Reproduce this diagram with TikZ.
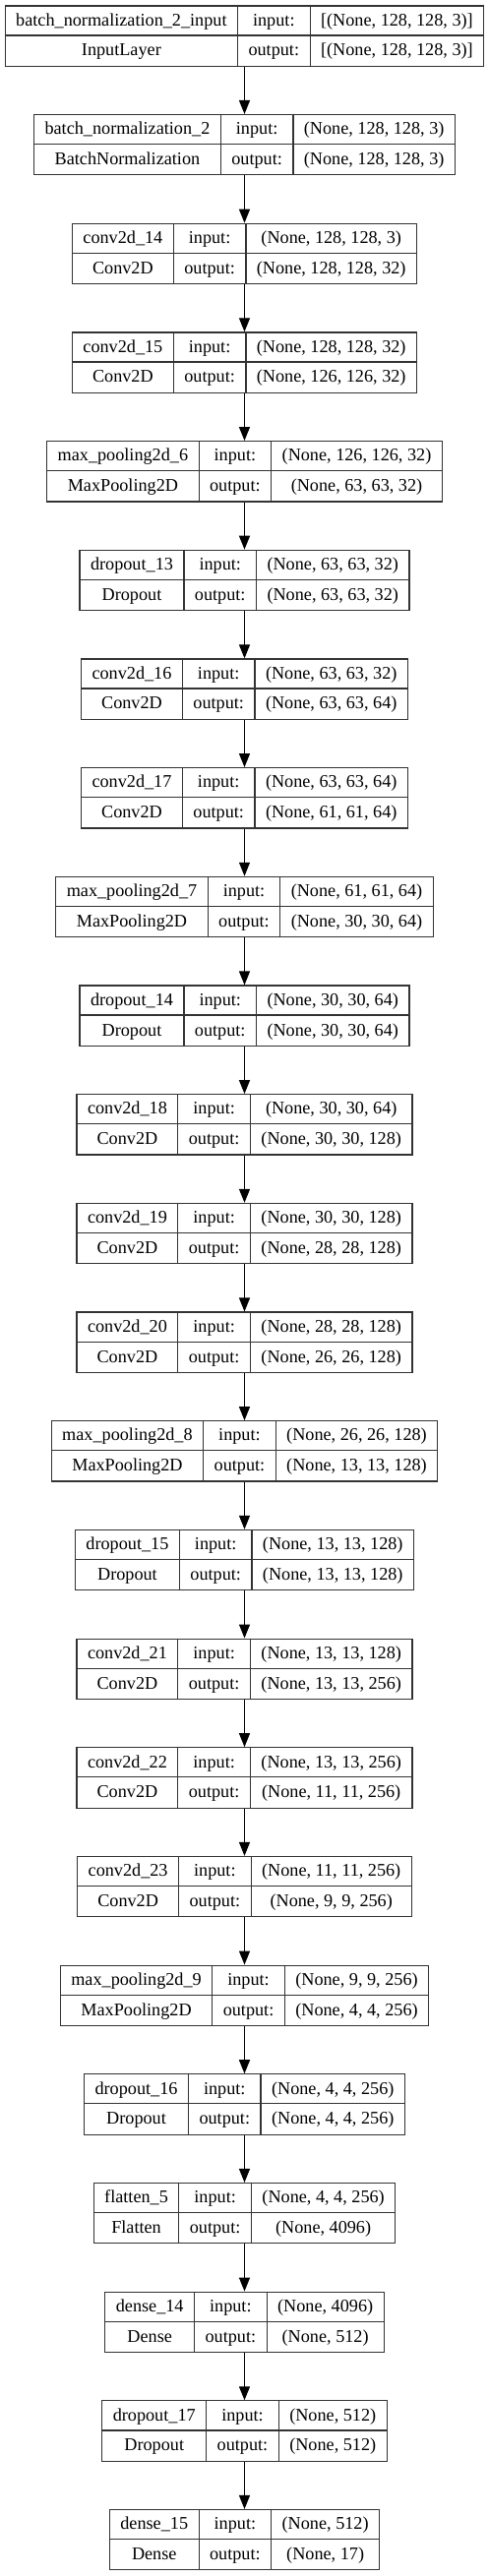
\documentclass[tikz,border=0pt]{standalone}
\usepackage{fontspec}
\setmainfont{Liberation Serif}
\usetikzlibrary{arrows.meta}
\newlength\klwA \newlength\klwB \newlength\klwC \newlength\kltmpX \newlength\kltmpY
\newcommand\lfont{\fontsize{18.2pt}{22pt}\selectfont}
\newcommand\klmax[3]{% #1 register, #2 text, #3 text
 \pgfinterruptpicture
 \settowidth\kltmpX{\lfont #2}\settowidth\kltmpY{\lfont #3}%
 \ifdim\kltmpY>\kltmpX \kltmpX=\kltmpY\fi
 \global#1=\kltmpX
 \endpgfinterruptpicture}
\newcommand\klayer[6]{%
 \klmax\klwA{#3}{#4}%
 \klmax\klwB{input:}{output:}%
 \klmax\klwC{#5}{#6}%
 \pgfmathsetmacro\kwa{\klwA+22}%
 \pgfmathsetmacro\kwb{\klwB+22}%
 \pgfmathsetmacro\kwc{\klwC+22}%
 \pgfmathsetmacro\ktot{\kwa+\kwb+\kwc}%
 \pgfmathsetmacro\kxl{248.5-\ktot/2}%
 \pgfmathsetmacro\kxa{\kxl+\kwa}%
 \pgfmathsetmacro\kxb{\kxa+\kwb}%
 \pgfmathsetmacro\kxr{\kxb+\kwc}%
 \pgfmathsetmacro\kyt{5.3+#2*110.68}%
 \node[box,minimum width=\ktot pt,minimum height=61.3pt,inner sep=0pt,anchor=north] (#1) at (248.5,\kyt) {};
 \draw[box] (\kxl,\kyt+30.65) -- (\kxr,\kyt+30.65);
 \draw[box] (\kxa,\kyt) -- (\kxa,\kyt+61.3);
 \draw[box] (\kxb,\kyt) -- (\kxb,\kyt+61.3);
 \node[lbl] (#1-n) at ({(\kxl+\kxa)/2},\kyt+20.8) {#3};
 \node[lbl] (#1-c) at ({(\kxl+\kxa)/2},\kyt+51.6) {#4};
 \node[lbl] (#1-i) at ({(\kxa+\kxb)/2},\kyt+20.8) {input:};
 \node[lbl] (#1-o) at ({(\kxa+\kxb)/2},\kyt+51.6) {output:};
 \node[lbl] (#1-is) at ({(\kxb+\kxr)/2},\kyt+20.8) {#5};
 \node[lbl] (#1-os) at ({(\kxb+\kxr)/2},\kyt+51.6) {#6};
}
\begin{document}
\begin{tikzpicture}[x=1pt,y=-1pt,
  box/.style={draw=black!80,line width=1.2pt},
  lbl/.style={inner sep=0pt,anchor=base,font=\lfont},
  conn/.style={-{Triangle[length=14pt,width=11pt]},line width=1.2pt,draw=black}]
\useasboundingbox[fill=white] (0,0) rectangle (497,2619);
\klayer{L1}{0}{batch\_normalization\_2\_input}{InputLayer}{[(None, 128, 128, 3)]}{[(None, 128, 128, 3)]}
\klayer{L2}{1}{batch\_normalization\_2}{BatchNormalization}{(None, 128, 128, 3)}{(None, 128, 128, 3)}
\klayer{L3}{2}{conv2d\_14}{Conv2D}{(None, 128, 128, 3)}{(None, 128, 128, 32)}
\klayer{L4}{3}{conv2d\_15}{Conv2D}{(None, 128, 128, 32)}{(None, 126, 126, 32)}
\klayer{L5}{4}{max\_pooling2d\_6}{MaxPooling2D}{(None, 126, 126, 32)}{(None, 63, 63, 32)}
\klayer{L6}{5}{dropout\_13}{Dropout}{(None, 63, 63, 32)}{(None, 63, 63, 32)}
\klayer{L7}{6}{conv2d\_16}{Conv2D}{(None, 63, 63, 32)}{(None, 63, 63, 64)}
\klayer{L8}{7}{conv2d\_17}{Conv2D}{(None, 63, 63, 64)}{(None, 61, 61, 64)}
\klayer{L9}{8}{max\_pooling2d\_7}{MaxPooling2D}{(None, 61, 61, 64)}{(None, 30, 30, 64)}
\klayer{L10}{9}{dropout\_14}{Dropout}{(None, 30, 30, 64)}{(None, 30, 30, 64)}
\klayer{L11}{10}{conv2d\_18}{Conv2D}{(None, 30, 30, 64)}{(None, 30, 30, 128)}
\klayer{L12}{11}{conv2d\_19}{Conv2D}{(None, 30, 30, 128)}{(None, 28, 28, 128)}
\klayer{L13}{12}{conv2d\_20}{Conv2D}{(None, 28, 28, 128)}{(None, 26, 26, 128)}
\klayer{L14}{13}{max\_pooling2d\_8}{MaxPooling2D}{(None, 26, 26, 128)}{(None, 13, 13, 128)}
\klayer{L15}{14}{dropout\_15}{Dropout}{(None, 13, 13, 128)}{(None, 13, 13, 128)}
\klayer{L16}{15}{conv2d\_21}{Conv2D}{(None, 13, 13, 128)}{(None, 13, 13, 256)}
\klayer{L17}{16}{conv2d\_22}{Conv2D}{(None, 13, 13, 256)}{(None, 11, 11, 256)}
\klayer{L18}{17}{conv2d\_23}{Conv2D}{(None, 11, 11, 256)}{(None, 9, 9, 256)}
\klayer{L19}{18}{max\_pooling2d\_9}{MaxPooling2D}{(None, 9, 9, 256)}{(None, 4, 4, 256)}
\klayer{L20}{19}{dropout\_16}{Dropout}{(None, 4, 4, 256)}{(None, 4, 4, 256)}
\klayer{L21}{20}{flatten\_5}{Flatten}{(None, 4, 4, 256)}{(None, 4096)}
\klayer{L22}{21}{dense\_14}{Dense}{(None, 4096)}{(None, 512)}
\klayer{L23}{22}{dropout\_17}{Dropout}{(None, 512)}{(None, 512)}
\klayer{L24}{23}{dense\_15}{Dense}{(None, 512)}{(None, 17)}
\foreach \a [count=\b from 2] in {1,...,23}
  \draw[conn] (L\a.south) -- (L\b.north);
\end{tikzpicture}
\end{document}
